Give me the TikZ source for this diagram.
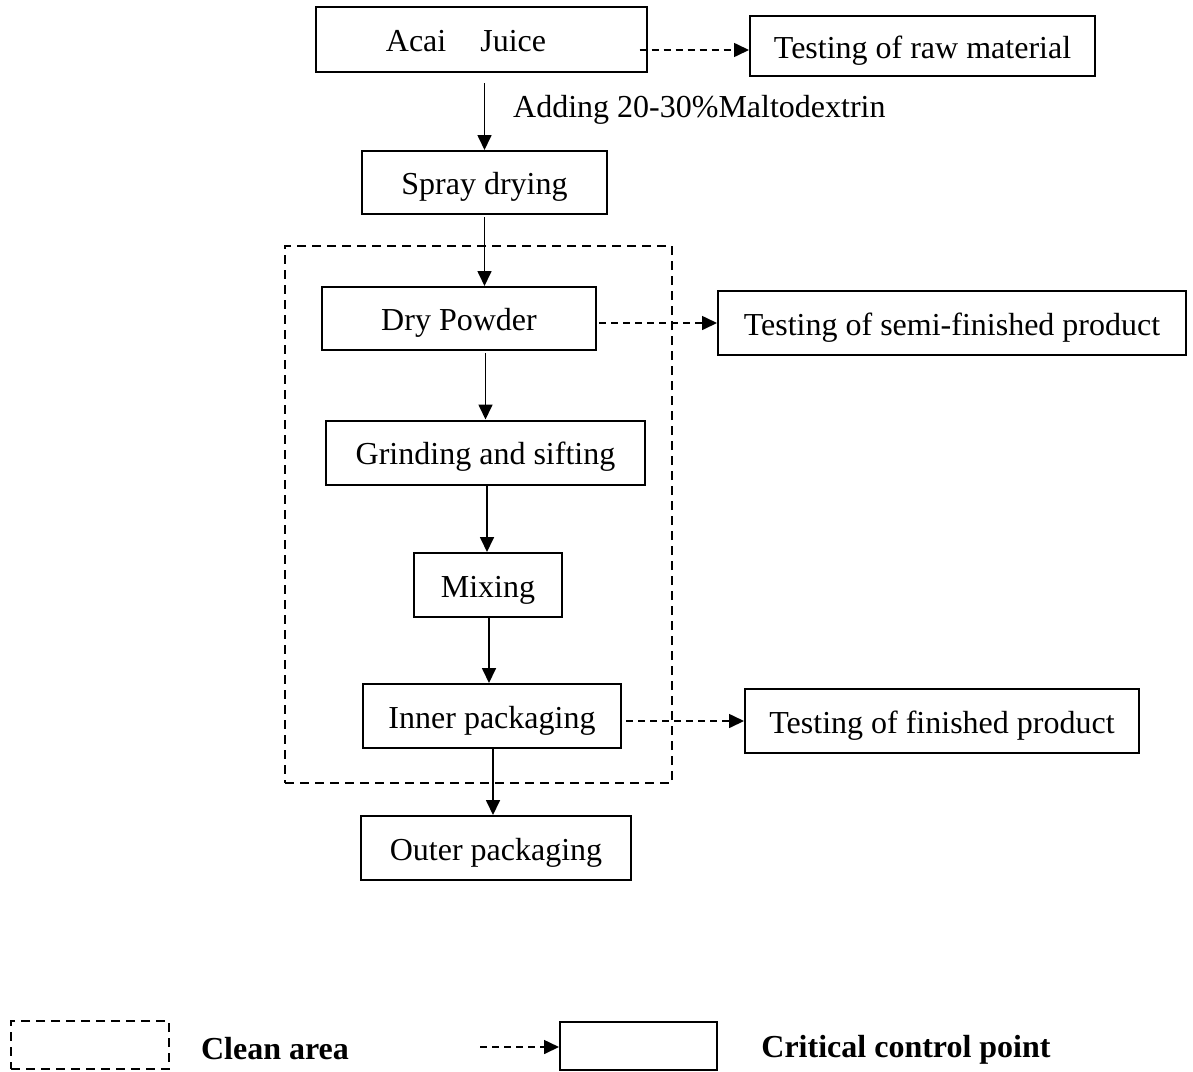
\documentclass[tikz,border=0pt]{standalone}
\usepackage{fontspec}
\setmainfont{Liberation Serif}
\usetikzlibrary{arrows.meta}
\begin{document}
\begin{tikzpicture}[x=1pt,y=-1pt,
  box/.style={draw, line width=2pt, inner sep=0pt, text height=27pt, text depth=3pt, font=\fontsize{32}{38}\selectfont},
  arr/.style={line width=1.7pt, -{Triangle[length=15pt,width=14pt]}},
  darr/.style={line width=1.6pt, dash pattern=on 7pt off 5pt, -{Triangle[length=15pt,width=14pt]}},
  area/.style={draw, line width=1.6pt, dash pattern=on 9pt off 6pt, inner sep=0pt},
  lbl/.style={font=\fontsize{32}{38}\selectfont, inner sep=0pt},
  bl/.style={font=\fontsize{32}{38}\selectfont\bfseries, inner sep=0pt}]
\useasboundingbox (0,0) rectangle (1193,1071);
% clean area
\node[area, minimum width=387pt, minimum height=537pt] (clean) at (478.5,514.5) {};
% boxes
\node[box, minimum width=331pt, minimum height=65pt] (juice) at (481,39.5) {Acai\hspace{34pt}Juice\rule{30pt}{0pt}};
\node[box, minimum width=345pt, minimum height=60pt] (raw) at (922.5,46) {Testing of raw material};
\node[box, minimum width=245pt, minimum height=63pt] (spray) at (484.5,182.5) {Spray drying};
\node[box, minimum width=274pt, minimum height=63pt] (dry) at (459,318.5) {Dry Powder};
\node[box, minimum width=468pt, minimum height=64pt] (semi) at (952,323) {Testing of semi-finished product};
\node[box, minimum width=319pt, minimum height=64pt] (grind) at (485.5,452.5) {Grinding and sifting};
\node[box, minimum width=148pt, minimum height=64pt] (mix) at (488,585) {Mixing};
\node[box, minimum width=258pt, minimum height=64pt] (inner) at (492,716) {Inner packaging};
\node[box, minimum width=394pt, minimum height=64pt] (fin) at (942,721) {Testing of finished product};
\node[box, minimum width=270pt, minimum height=64pt] (outer) at (496,848) {Outer packaging};
\node[lbl, anchor=base west] (add) at (513,117) {Adding 20-30\%Maltodextrin};
% solid arrows
\draw[arr] ([yshift=-10pt]spray.north |- juice.south) -- (spray.north);
\draw[arr] ([yshift=-2pt]spray.south) -- (spray.south |- dry.north);
\draw[arr] ([yshift=-2pt]grind.north |- dry.south) -- (grind.north);
\draw[arr] ([xshift=1.5pt]grind.south) -- ([xshift=1.5pt]grind.south |- mix.north);
\draw[arr] ([xshift=1pt]mix.south) -- ([xshift=1pt]mix.south |- inner.north);
\draw[arr] ([xshift=1pt]inner.south) -- ([xshift=1pt]inner.south |- outer.north);
% dashed arrows
\coordinate (jstart) at ([xshift=-8pt,yshift=-10.5pt]juice.east);
\draw[darr] (jstart) -- (raw.west |- jstart);
\draw[darr] ([xshift=2pt]dry.east |- semi.west) -- (semi.west);
\draw[darr] ([xshift=4pt]inner.east |- fin.west) -- (fin.west);
% legend
\node[area, minimum width=158pt, minimum height=48pt] (legarea) at (90,1045) {};
\node[bl] (legclean) at (275,1049) {Clean area};
\node[draw, line width=2pt, inner sep=0pt, minimum width=157pt, minimum height=48pt] (legbox) at (638.5,1046) {};
\coordinate (legstart) at (480,1047);
\draw[darr] (legstart) -- (legbox.west |- legstart);
\node[bl] (legccp) at (906,1050) {Critical control point};
\end{tikzpicture}
\end{document}
